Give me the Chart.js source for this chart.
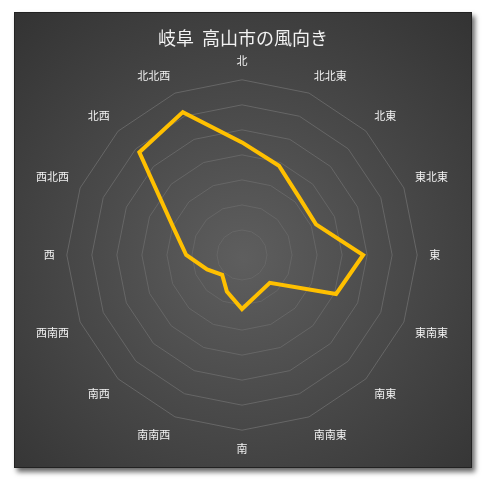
<!DOCTYPE html>
<html>
<head>
<meta charset="utf-8">
<script src="https://cdn.jsdelivr.net/npm/chart.js@4"></script>
<style>
  body { margin: 0; background: #fff; }
  #frame {
    position: absolute; left: 14px; top: 12px; width: 456px; height: 454px;
    background: radial-gradient(circle at 50% 54%, #5e5e5e 0%, #4a4a4a 45%, #333 100%);
    border: 1px solid #222;
    box-shadow: 3px 4px 5px rgba(0,0,0,0.6);
  }
  canvas { position: absolute; left: 0; top: 0; }
</style>
</head>
<body>
<div id="frame"><canvas id="chart1" width="456" height="454"></canvas></div>
<script>
var directions = ["北", "北北東", "北東", "東北東", "東", "東南東", "南東", "南南東",
  "南", "南南西", "南西", "西南西", "西", "西北西", "北西", "北北西"];
var windValues = [4.5, 3.86, 3.24, 3.2, 4.84, 4.07, 1.57, 1.68,
  2.16, 1.58, 1.12, 1.51, 2.23, 2.99, 5.8, 6.18];
var chartTitle = "岐阜  高山市の風向き";

var ctx = document.getElementById("chart1").getContext("2d");
var myChart = new Chart(ctx, {
  type: "radar",
  data: {
    labels: directions,
    datasets: [{
      label: "風向き",
      data: windValues,
      borderColor: "#ffc000",
      backgroundColor: "rgba(0,0,0,0)",
      borderWidth: 4,
      pointRadius: 0,
      tension: 0,
    }],
  },
  options: {
    responsive: false,
    animation: false,
    layout: { padding: { top: 14, bottom: 10, left: 20, right: 20 } },
    plugins: {
      legend: { display: false },
      tooltip: { enabled: false },
      title: {
        display: true,
        text: chartTitle,
        color: "#f2f2f2",
        font: { family: "Noto Sans CJK JP", size: 18, weight: "normal" },
        padding: { top: 0, bottom: 6 },
      },
    },
    scales: {
      r: {
        min: 0,
        max: 7,
        ticks: { stepSize: 1, display: false },
        grid: { color: "#666666", lineWidth: 1, borderDash: [2, 1] },
        angleLines: { display: false },
        pointLabels: {
          color: "#f2f2f2",
          padding: 12,
          font: { family: "Noto Sans CJK JP", size: 11 },
        },
      },
    },
  },
});
</script>
</body>
</html>
